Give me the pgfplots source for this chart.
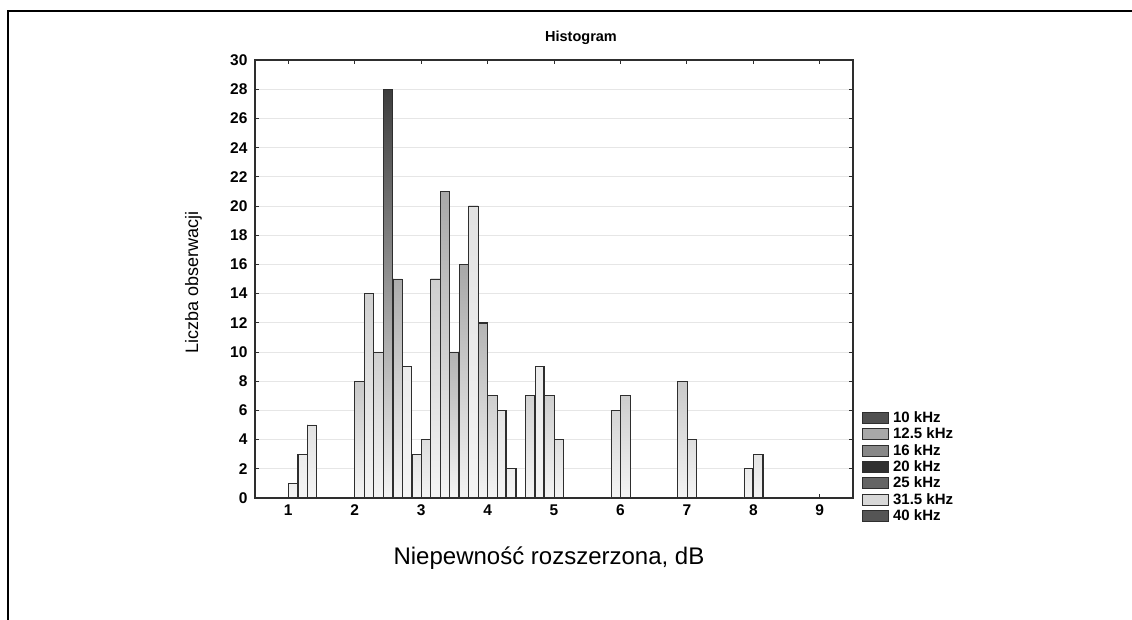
\documentclass[border=0pt]{standalone}
\usepackage{fontspec}
\setmainfont{Liberation Sans}
\usepackage{pgfplots}
\usepackage{pgfplotstable}
\pgfplotsset{compat=1.18}

% counts per 1 dB bin, one column per frequency
\pgfplotstableread{
bin  f10 f125 f16 f20 f25 f315 f40
1.5  1   3    5   0   0   0    0
2.5  8   14   10  28  15  9    3
3.5  4   15   21  10  16  20   12
4.5  7   6    2   0   7   9    7
5.5  4   0    0   0   0   0    6
6.5  7   0    0   0   0   0    8
7.5  4   0    0   0   0   0    2
8.5  3   0    0   0   0   0    0
}\histdata

\definecolor{bgl}{HTML}{F4F4F4}
\definecolor{c10}{HTML}{505050}
\definecolor{c125}{HTML}{A8A8A8}
\definecolor{c16}{HTML}{888888}
\definecolor{c20}{HTML}{303030}
\definecolor{c25}{HTML}{656565}
\definecolor{c315}{HTML}{D8D8D8}
\definecolor{c40}{HTML}{555555}
\definecolor{edge}{HTML}{2E2E2E}
\definecolor{gridc}{HTML}{E6E6E6}

% every bar shows a slice of one gradient that runs from the axis bottom
% to the axis top (438pt), so short bars stay pale; the outline is redrawn
% inside the clip so the shading does not hide it
\pgfplotsset{
  hbar/.style 2 args={ybar, bar width=0.142857, bar shift=#2,
    draw=edge, line width=0.6pt, fill=none, forget plot,
    path picture={
      \shade[path picture={}, draw=none, bottom color=bgl, top color=#1]
        (path picture bounding box.south west) rectangle
        ([yshift=438pt]path picture bounding box.south east);
      \draw[path picture={}, draw=edge, line width=2.2pt]
        (path picture bounding box.south west) rectangle
        (path picture bounding box.north east);},
    y filter/.expression={y==0 ? nan : y}},
}

\begin{document}
\begin{tikzpicture}[x=1pt,y=1pt]
\useasboundingbox (0,0) rectangle (1132,620);
\draw[line width=2.5pt] (8,0) -- (8,609) -- (1132,609);
\begin{axis}[
  at={(255pt,122pt)}, anchor=south west,
  scale only axis, width=598pt, height=438pt,
  xmin=0.5, xmax=9.5, ymin=0, ymax=30,
  xtick={1,...,9}, ytick={0,2,...,30},
  tick align=inside, major tick length=4pt,
  axis line style={draw=edge, line width=1.3pt},
  every tick/.style={draw=edge, line width=0.9pt},
  ymajorgrids, grid style={draw=gridc, line width=0.9pt},
  ticklabel style={font=\bfseries\fontsize{15.5}{17}\selectfont},
  yticklabel style={xshift=-4pt},
  xticklabel style={yshift=-3pt},
  /pgf/number format/assume math mode=true,
  title={Histogram},
  title style={font=\bfseries\fontsize{14.5}{16}\selectfont, at={(0.5,1)}, anchor=base, xshift=27pt, yshift=12pt},
  xlabel={Niepewność rozszerzona, dB},
  xlabel style={font=\fontsize{24}{28}\selectfont, at={(axis description cs:0.4916,0)}, anchor=base, yshift=-67pt},
  ylabel={Liczba obserwacji},
  ylabel style={font=\fontsize{18}{20}\selectfont, at={(axis description cs:-0.0953,0.493)}, anchor=base},
  legend style={at={(1.01,0.207)}, anchor=north west, draw=none, fill=none,
    font=\bfseries\fontsize{15}{16.5}\selectfont, row sep=0pt,
    legend cell align=left, nodes={inner xsep=4pt}},
  legend image code/.code={\draw[#1, draw=edge, line width=0.9pt] (0pt,-5.5pt) rectangle (26pt,5.5pt);},
]
\addplot[hbar={c10}{-0.428571}]  table[x=bin, y=f10]  {\histdata};
\addplot[hbar={c125}{-0.285714}] table[x=bin, y=f125] {\histdata};
\addplot[hbar={c16}{-0.142857}]  table[x=bin, y=f16]  {\histdata};
\addplot[hbar={c20}{0}]          table[x=bin, y=f20]  {\histdata};
\addplot[hbar={c25}{0.142857}]   table[x=bin, y=f25]  {\histdata};
\addplot[hbar={c315}{0.285714}]  table[x=bin, y=f315] {\histdata};
\addplot[hbar={c40}{0.428571}]   table[x=bin, y=f40]  {\histdata};
\addlegendimage{fill=c10}  \addlegendentry{10 kHz}
\addlegendimage{fill=c125} \addlegendentry{12.5 kHz}
\addlegendimage{fill=c16}  \addlegendentry{16 kHz}
\addlegendimage{fill=c20}  \addlegendentry{20 kHz}
\addlegendimage{fill=c25}  \addlegendentry{25 kHz}
\addlegendimage{fill=c315} \addlegendentry{31.5 kHz}
\addlegendimage{fill=c40}  \addlegendentry{40 kHz}
\end{axis}
\end{tikzpicture}
\end{document}
